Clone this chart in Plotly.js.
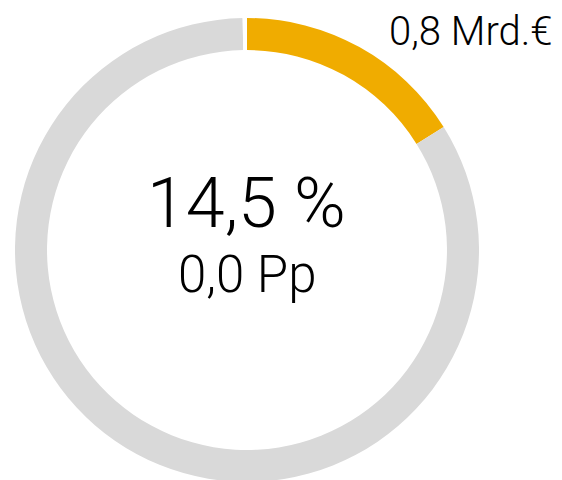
<!DOCTYPE html>
<html>
<head>
<meta charset="utf-8">
<script src="https://cdn.plot.ly/plotly-3.0.1.min.js"></script>
<style>
html,body{margin:0;padding:0;overflow:hidden;background:#fff;}
#chart{width:562px;height:484px;}
</style>
</head>
<body>
<div id="chart"></div>
<script>
// Data
const sliceLabels = ["Anteil", "Rest", "Lücke"];
const sliceValues = [16.1, 83.6, 0.3];
const sliceColors = ["#F0AC00", "#D9D9D9", "#FFFFFF"];
const centerValue = "14,5 %";
const centerChange = "0,0 Pp";
const amountLabel = "0,8 Mrd.€";

const W = 562, H = 484;
const L = 15, T = 18, S = 464;
function px(x){ return (x - L) / S; }
function py(y){ return (T + S - y) / S; }

const fontFam = "Roboto, 'Liberation Sans', sans-serif";

const data = [{
  type: "pie",
  labels: sliceLabels,
  values: sliceValues,
  sort: false,
  direction: "clockwise",
  rotation: 0,
  hole: 0.862,
  textinfo: "none",
  hoverinfo: "none",
  marker: { colors: sliceColors, line: { width: 0 } },
  showlegend: false
}];

const layout = {
  width: W, height: H,
  margin: { l: L, r: W - L - S, t: T, b: H - T - S, pad: 0 },
  paper_bgcolor: "#fff",
  plot_bgcolor: "#fff",
  showlegend: false,
  annotations: [
    { text: centerValue, xref: "paper", yref: "paper", x: px(246), y: py(203),
      xanchor: "center", yanchor: "middle", showarrow: false,
      font: { family: fontFam, size: 70, color: "#000", weight: 300 } },
    { text: centerChange, xref: "paper", yref: "paper", x: px(247), y: py(274),
      xanchor: "center", yanchor: "middle", showarrow: false,
      font: { family: fontFam, size: 51, color: "#000", weight: 300 } },
    { text: amountLabel, xref: "paper", yref: "paper", x: px(555), y: py(31),
      xanchor: "right", yanchor: "middle", showarrow: false,
      font: { family: fontFam, size: 40, color: "#000", weight: 300 } }
  ]
};

Plotly.newPlot("chart", data, layout, { displayModeBar: false, staticPlot: true });
</script>
</body>
</html>
